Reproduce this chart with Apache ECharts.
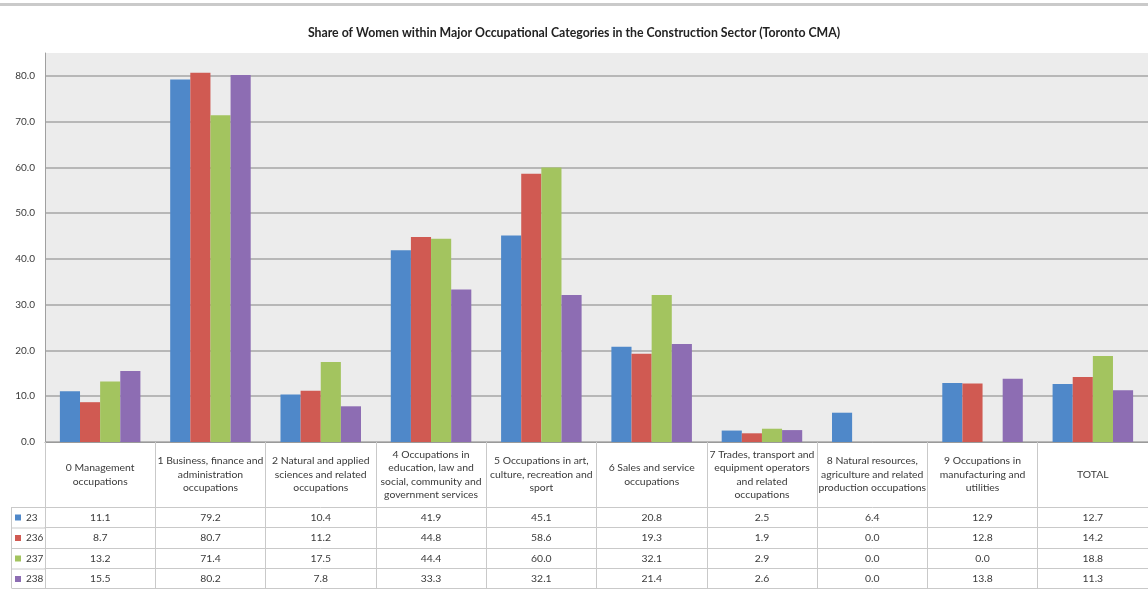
<!DOCTYPE html>
<html><head><meta charset="utf-8">
<script src="https://cdn.jsdelivr.net/npm/echarts@6/dist/echarts.min.js"></script>
<style>html,body{margin:0;padding:0;background:#fff}#c{width:1148px;height:589px}</style>
</head><body><div id="c"></div>
<script>
const chartTitle = 'Share of Women within Major Occupational Categories in the Construction Sector (Toronto CMA)';
const categories = [
  '0 Management\noccupations',
  '1 Business, finance and\nadministration\noccupations',
  '2 Natural and applied\nsciences and related\noccupations',
  '4 Occupations in\neducation, law and\nsocial, community and\ngovernment services',
  '5 Occupations in art,\nculture, recreation and\nsport',
  '6 Sales and service\noccupations',
  '7 Trades, transport and\nequipment operators\nand related\noccupations',
  '8 Natural resources,\nagriculture and related\nproduction occupations',
  '9 Occupations in\nmanufacturing and\nutilities',
  'TOTAL'
];
const seriesNames = ['23', '236', '237', '238'];
const s23  = [11.1, 79.2, 10.4, 41.9, 45.1, 20.8, 2.5, 6.4, 12.9, 12.7];
const s236 = [8.7, 80.7, 11.2, 44.8, 58.6, 19.3, 1.9, 0.0, 12.8, 14.2];
const s237 = [13.2, 71.4, 17.5, 44.4, 60.0, 32.1, 2.9, 0.0, 0.0, 18.8];
const s238 = [15.5, 80.2, 7.8, 33.3, 32.1, 21.4, 2.6, 0.0, 13.8, 11.3];
const yMin = 0, yMax = 85, yStep = 10;

const seriesValues = [s23, s236, s237, s238];
const colors = ['#4F88C9', '#D05A52', '#A3C45F', '#8D6DB3'];
const FONT = 'Lato, "Liberation Sans", Arial, sans-serif';
const tableLine = '#c9c9c9';
const gridTop = 53, gridBottomY = 442, headerH = 65, rowH = 20.5;

const xAxes = [{
  type: 'category', gridIndex: 0, position: 'bottom', data: categories,
  axisLine: { lineStyle: { color: '#9a9a9a', width: 1 } },
  axisTick: { show: true, interval: 0, length: headerH, lineStyle: { color: tableLine } },
  axisLabel: { interval: 0, margin: headerH / 2, verticalAlign: 'middle', align: 'center',
    lineHeight: 13.5, fontSize: 10.4, color: '#3a3a3a', fontFamily: FONT },
  splitLine: { show: false }
}];
seriesValues.forEach((vals, r) => {
  xAxes.push({
    type: 'category', gridIndex: 0, position: 'bottom', offset: headerH + rowH * r,
    data: categories,
    axisLine: { lineStyle: { color: tableLine, width: 1 } },
    axisTick: { show: true, interval: 0, length: rowH, lineStyle: { color: tableLine } },
    axisLabel: { interval: 0, margin: rowH / 2, verticalAlign: 'middle', align: 'center',
      fontSize: 10.4, color: '#3a3a3a', fontFamily: FONT,
      formatter: (v, i) => vals[i].toFixed(1) },
    splitLine: { show: false }
  });
});
xAxes.push({
  type: 'category', gridIndex: 0, position: 'bottom', offset: headerH + rowH * 4 - 1,
  data: categories,
  axisLine: { lineStyle: { color: tableLine, width: 1 } },
  axisTick: { show: false }, axisLabel: { show: false }, splitLine: { show: false }
});

const splitColors = [];
for (let v = yMin; v <= yMax; v += yStep) splitColors.push('#b7b7b7');
splitColors.push('rgba(0,0,0,0)');

const legendLines = [];
for (let r = 0; r <= 4; r++) {
  const y = gridBottomY + headerH + rowH * r - (r === 4 ? 1 : 0);
  legendLines.push({ type: 'line', shape: { x1: 11.5, y1: y + 0.5, x2: 45, y2: y + 0.5 },
    style: { stroke: tableLine, lineWidth: 1 }, silent: true });
}
legendLines.push({ type: 'line', shape: { x1: 11.5, y1: gridBottomY + headerH, x2: 11.5, y2: 588 },
  style: { stroke: tableLine, lineWidth: 1 }, silent: true });

const chart = echarts.init(document.getElementById('c'), null, { renderer: 'canvas' });
chart.setOption({
  animation: false,
  backgroundColor: '#fff',
  textStyle: { fontFamily: FONT },
  title: { text: chartTitle, left: 'center', top: 22,
    textStyle: { fontFamily: FONT, fontWeight: 'bold', fontSize: 12.3, color: '#222' } },
  grid: { left: 45, top: gridTop, width: 1108, height: gridBottomY - gridTop,
    show: true, backgroundColor: '#ececec', borderWidth: 0 },
  legend: { data: seriesNames, orient: 'vertical', left: 15, top: gridBottomY + headerH + 4.5,
    padding: 0, itemWidth: 6, itemHeight: 6, itemGap: 8.5, icon: 'rect', itemStyle: { borderWidth: 0 },
    textStyle: { fontSize: 10, lineHeight: 12, color: '#3a3a3a', fontFamily: FONT } },
  xAxis: xAxes,
  yAxis: {
    type: 'value', min: yMin, max: yMax, interval: yStep,
    axisLine: { show: true, lineStyle: { color: '#a0a0a0' } },
    axisTick: { show: false },
    axisLabel: { fontSize: 10, color: '#3a3a3a', margin: 10, fontFamily: FONT,
      showMaxLabel: false, formatter: v => (v % yStep === 0 ? v.toFixed(1) : '') },
    splitLine: { show: true, showMaxLine: false, lineStyle: { color: splitColors, width: 2 } }
  },
  graphic: [
    { type: 'rect', shape: { x: 0, y: 3, width: 1148, height: 3 }, style: { fill: '#cacaca' }, silent: true },
    ...legendLines
  ],
  series: seriesValues.map((vals, i) => ({
    type: 'bar', name: seriesNames[i], data: vals, xAxisIndex: 0,
    barGap: '0%', barCategoryGap: '27%',
    itemStyle: { color: colors[i], borderWidth: 0 }
  }))
});
</script>
</body></html>
